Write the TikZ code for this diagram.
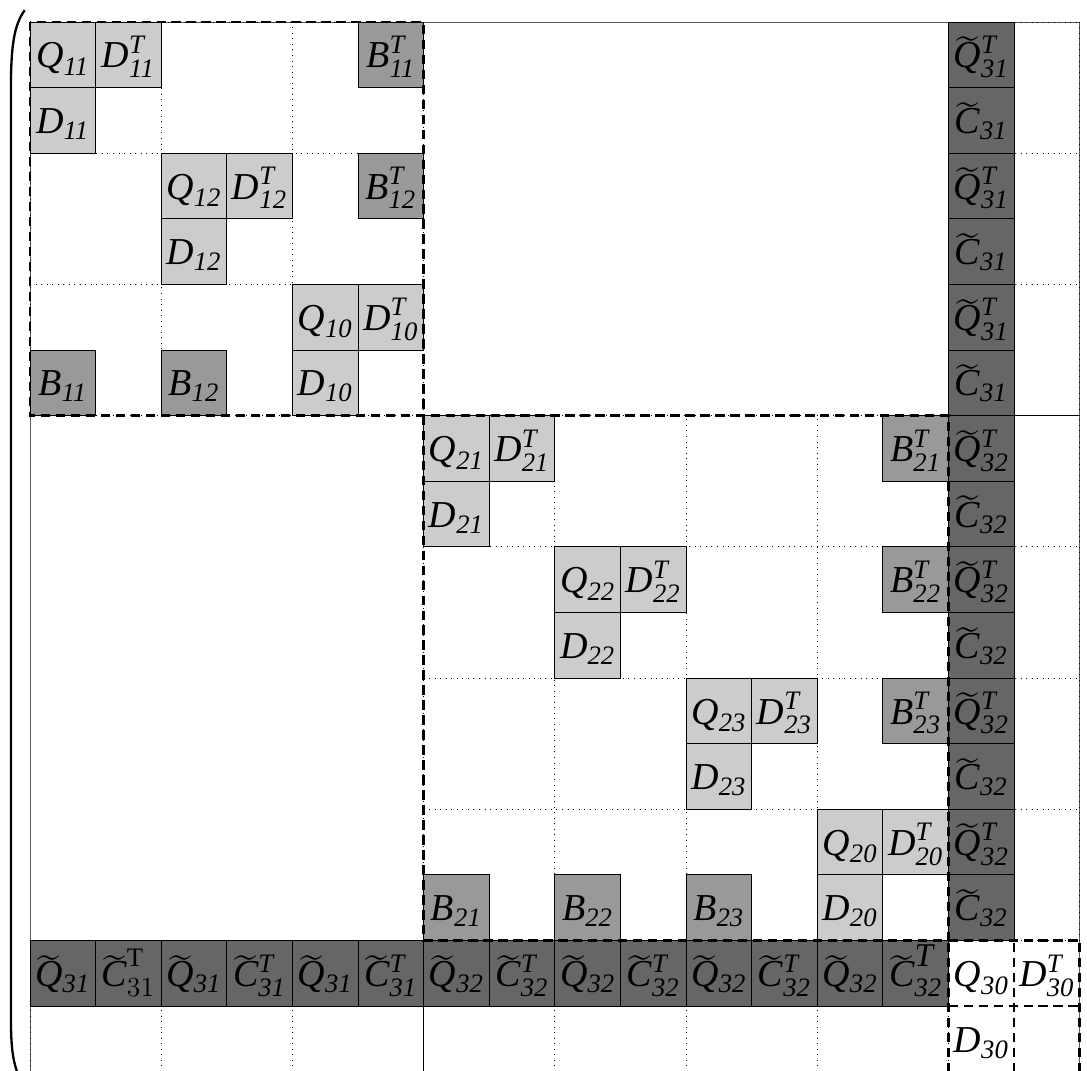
\documentclass[tikz,border=0pt]{standalone}
\usepackage{amsmath}
\usepackage{fontspec}
\setmainfont{Liberation Serif}
\usepackage{tikz}
\usetikzlibrary{calc}
\newcommand{\mt}[1]{\text{\itshape #1}}
\newcommand{\tlc}[1]{\widetilde{\raisebox{0pt}[\dimexpr\height-2.5pt\relax]{\mt{#1}}}}
\newcommand{\tl}[1]{\tlc{#1}\vphantom{\mt{#1}}}
\tikzset{
    my-cell/.style={
        minimum size=1cm, inner sep=0pt, text height=.5cm, text depth=.1cm
    },
    my-light-cell/.style={
        my-cell, draw, fill=black!20
    },
    my-b-cell/.style={
        my-cell, draw, fill=black!40
    },
    my-dark-cell/.style={
        my-cell, draw, fill=black!60
    },
    my-open-cell/.style={
        my-cell
    },
    my-grid/.style={
        dotted, thin
    },
    my-frame/.style={
        line width=1.1pt, dash pattern=on 4pt off 2.5pt
    },
}
\begin{document}
\begin{tikzpicture}[font=\fontsize{16.5}{18}\selectfont]

        % MATRIX ------------------------------------------------------------------------------------

        % BLOCK CORNERS
        \coordinate (BLK1) at (0, 0);
        \coordinate (BLK2) at (6, -6);
        \coordinate (BLK3) at (14, -14);
        \coordinate (ARWR) at (14, 0);
        \coordinate (ARWB) at (0, -14);

        \useasboundingbox (-.457, .335) rectangle (16.11, -15.985);

        % LEFT BRACKET
        \draw[line width=1pt] (-.08, .18) .. controls (-.25, -.05) and (-.29, -.4) .. (-.29, -1)
            -- (-.29, -15.2) .. controls (-.29, -15.7) and (-.25, -15.95) .. (-.1, -16.2);

        % OUTER FRAME
        \draw[black!65] (BLK1) rectangle (16, -16);

        % DOTTED GRIDS OF THE NONZERO BLOCKS
        \draw[my-grid] (0, -6)   grid[step=2] (6, 0);
        \draw[my-grid] (14, -6)  grid[step=2] (16, 0);
        \draw[my-grid] (6, -14)  grid[step=2] (14, -6);
        \draw[my-grid] (14, -14) grid[step=2] (16, -6);
        \draw[my-grid] (0, -16)  grid[step=2] (6, -14);
        \draw[my-grid] (6, -16)  grid[step=2] (14, -14);
        \draw (6, -14) -- (6, -16);
        \draw (14, -6) -- (16, -6);

        % BLOCK 1 ---------------------------------------------------------------------------------
        \node[my-light-cell] (Q11)  at ($(BLK1) + (.5, -.5)$)  {$\mt{Q}_{\mt{11}}$};
        \node[my-light-cell] (D11T) at ($(BLK1) + (1.5, -.5)$) {$\mt{D}_{\mt{11}}^{\mt{T}}$};
        \node[my-light-cell] (D11)  at ($(BLK1) + (.5, -1.5)$) {$\mt{D}_{\mt{11}}$};
        \node[my-light-cell] (Q12)  at ($(BLK1) + (2.5, -2.5)$) {$\mt{Q}_{\mt{12}}$};
        \node[my-light-cell] (D12T) at ($(BLK1) + (3.5, -2.5)$) {$\mt{D}_{\mt{12}}^{\mt{T}}$};
        \node[my-light-cell] (D12)  at ($(BLK1) + (2.5, -3.5)$) {$\mt{D}_{\mt{12}}$};
        \node[my-light-cell] (Q10)  at ($(BLK1) + (4.5, -4.5)$) {$\mt{Q}_{\mt{10}}$};
        \node[my-light-cell] (D10T) at ($(BLK1) + (5.5, -4.5)$) {$\mt{D}_{\mt{10}}^{\mt{T}}$};
        \node[my-light-cell] (D10)  at ($(BLK1) + (4.5, -5.5)$) {$\mt{D}_{\mt{10}}$};

        % COUPLING - BLOCK 1
        \node[my-b-cell] (B11T) at ($(BLK1) + (5.5, -.5)$)  {$\mt{B}_{\mt{11}}^{\mt{T}}$};
        \node[my-b-cell] (B12T) at ($(BLK1) + (5.5, -2.5)$) {$\mt{B}_{\mt{12}}^{\mt{T}}$};
        \node[my-b-cell] (B11)  at ($(BLK1) + (.5, -5.5)$)  {$\mt{B}_{\mt{11}}$};
        \node[my-b-cell] (B12)  at ($(BLK1) + (2.5, -5.5)$) {$\mt{B}_{\mt{12}}$};

        % BLOCK 2 ---------------------------------------------------------------------------------
        \node[my-light-cell] (Q21)  at ($(BLK2) + (.5, -.5)$)  {$\mt{Q}_{\mt{21}}$};
        \node[my-light-cell] (D21T) at ($(BLK2) + (1.5, -.5)$) {$\mt{D}_{\mt{21}}^{\mt{T}}$};
        \node[my-light-cell] (D21)  at ($(BLK2) + (.5, -1.5)$) {$\mt{D}_{\mt{21}}$};
        \node[my-light-cell] (Q22)  at ($(BLK2) + (2.5, -2.5)$) {$\mt{Q}_{\mt{22}}$};
        \node[my-light-cell] (D22T) at ($(BLK2) + (3.5, -2.5)$) {$\mt{D}_{\mt{22}}^{\mt{T}}$};
        \node[my-light-cell] (D22)  at ($(BLK2) + (2.5, -3.5)$) {$\mt{D}_{\mt{22}}$};
        \node[my-light-cell] (Q23)  at ($(BLK2) + (4.5, -4.5)$) {$\mt{Q}_{\mt{23}}$};
        \node[my-light-cell] (D23T) at ($(BLK2) + (5.5, -4.5)$) {$\mt{D}_{\mt{23}}^{\mt{T}}$};
        \node[my-light-cell] (D23)  at ($(BLK2) + (4.5, -5.5)$) {$\mt{D}_{\mt{23}}$};
        \node[my-light-cell] (Q20)  at ($(BLK2) + (6.5, -6.5)$) {$\mt{Q}_{\mt{20}}$};
        \node[my-light-cell] (D20T) at ($(BLK2) + (7.5, -6.5)$) {$\mt{D}_{\mt{20}}^{\mt{T}}$};
        \node[my-light-cell] (D20)  at ($(BLK2) + (6.5, -7.5)$) {$\mt{D}_{\mt{20}}$};

        % COUPLING - BLOCK 2
        \node[my-b-cell] (B21T) at ($(BLK2) + (7.5, -.5)$)  {$\mt{B}_{\mt{21}}^{\mt{T}}$};
        \node[my-b-cell] (B22T) at ($(BLK2) + (7.5, -2.5)$) {$\mt{B}_{\mt{22}}^{\mt{T}}$};
        \node[my-b-cell] (B23T) at ($(BLK2) + (7.5, -4.5)$) {$\mt{B}_{\mt{23}}^{\mt{T}}$};
        \node[my-b-cell] (B21)  at ($(BLK2) + (.5, -7.5)$)  {$\mt{B}_{\mt{21}}$};
        \node[my-b-cell] (B22)  at ($(BLK2) + (2.5, -7.5)$) {$\mt{B}_{\mt{22}}$};
        \node[my-b-cell] (B23)  at ($(BLK2) + (4.5, -7.5)$) {$\mt{B}_{\mt{23}}$};

        % ARROW COLUMN ----------------------------------------------------------------------------
        \node[my-dark-cell] (COL0)  at ($(ARWR) + (.5, -.5)$)   {$\tl{Q}_{\mt{31}}^{\mt{T}}$};
        \node[my-dark-cell] (COL1)  at ($(ARWR) + (.5, -1.5)$)  {$\tl{C}_{\mt{31}}$};
        \node[my-dark-cell] (COL2)  at ($(ARWR) + (.5, -2.5)$)  {$\tl{Q}_{\mt{31}}^{\mt{T}}$};
        \node[my-dark-cell] (COL3)  at ($(ARWR) + (.5, -3.5)$)  {$\tl{C}_{\mt{31}}$};
        \node[my-dark-cell] (COL4)  at ($(ARWR) + (.5, -4.5)$)  {$\tl{Q}_{\mt{31}}^{\mt{T}}$};
        \node[my-dark-cell] (COL5)  at ($(ARWR) + (.5, -5.5)$)  {$\tl{C}_{\mt{31}}$};
        \node[my-dark-cell] (COL6)  at ($(ARWR) + (.5, -6.5)$)  {$\tl{Q}_{\mt{32}}^{\mt{T}}$};
        \node[my-dark-cell] (COL7)  at ($(ARWR) + (.5, -7.5)$)  {$\tl{C}_{\mt{32}}$};
        \node[my-dark-cell] (COL8)  at ($(ARWR) + (.5, -8.5)$)  {$\tl{Q}_{\mt{32}}^{\mt{T}}$};
        \node[my-dark-cell] (COL9)  at ($(ARWR) + (.5, -9.5)$)  {$\tl{C}_{\mt{32}}$};
        \node[my-dark-cell] (COL10) at ($(ARWR) + (.5, -10.5)$) {$\tl{Q}_{\mt{32}}^{\mt{T}}$};
        \node[my-dark-cell] (COL11) at ($(ARWR) + (.5, -11.5)$) {$\tl{C}_{\mt{32}}$};
        \node[my-dark-cell] (COL12) at ($(ARWR) + (.5, -12.5)$) {$\tl{Q}_{\mt{32}}^{\mt{T}}$};
        \node[my-dark-cell] (COL13) at ($(ARWR) + (.5, -13.5)$) {$\tl{C}_{\mt{32}}$};

        % ARROW ROW -------------------------------------------------------------------------------
        \node[my-dark-cell] (ROW0)  at ($(ARWB) + (.5, -.5)$)   {$\tl{Q}_{\mt{31}}$};
        \node[my-dark-cell] (ROW1)  at ($(ARWB) + (1.5, -.5)$)  {$\tlc{C}_{31}^{\mathrm{T}}$};
        \node[my-dark-cell] (ROW2)  at ($(ARWB) + (2.5, -.5)$)  {$\tl{Q}_{\mt{31}}$};
        \node[my-dark-cell] (ROW3)  at ($(ARWB) + (3.5, -.5)$)  {$\tl{C}_{\mt{31}}^{\mt{T}}$};
        \node[my-dark-cell] (ROW4)  at ($(ARWB) + (4.5, -.5)$)  {$\tl{Q}_{\mt{31}}$};
        \node[my-dark-cell] (ROW5)  at ($(ARWB) + (5.5, -.5)$)  {$\tl{C}_{\mt{31}}^{\mt{T}}$};
        \node[my-dark-cell] (ROW6)  at ($(ARWB) + (6.5, -.5)$)  {$\tl{Q}_{\mt{32}}$};
        \node[my-dark-cell] (ROW7)  at ($(ARWB) + (7.5, -.5)$)  {$\tl{C}_{\mt{32}}^{\mt{T}}$};
        \node[my-dark-cell] (ROW8)  at ($(ARWB) + (8.5, -.5)$)  {$\tl{Q}_{\mt{32}}$};
        \node[my-dark-cell] (ROW9)  at ($(ARWB) + (9.5, -.5)$)  {$\tl{C}_{\mt{32}}^{\mt{T}}$};
        \node[my-dark-cell] (ROW10) at ($(ARWB) + (10.5, -.5)$) {$\tl{Q}_{\mt{32}}$};
        \node[my-dark-cell] (ROW11) at ($(ARWB) + (11.5, -.5)$) {$\tl{C}_{\mt{32}}^{\mt{T}}$};
        \node[my-dark-cell] (ROW12) at ($(ARWB) + (12.5, -.5)$) {$\tl{Q}_{\mt{32}}$};
        \node[my-dark-cell] (ROW13) at ($(ARWB) + (13.5, -.5)$) {$\tlc{C}_{\mt{32}}^{\mbox{\itshape\Large T}}$};

        % BLOCK 3 ---------------------------------------------------------------------------------
        \node[my-open-cell] (Q30)  at ($(BLK3) + (.5, -.5)$)  {$\mt{Q}_{\mt{30}}$};
        \node[my-open-cell] (D30T) at ($(BLK3) + (1.5, -.5)$) {$\mt{D}_{\mt{30}}^{\mt{T}}$};
        \node[my-open-cell] (D30)  at ($(BLK3) + (.5, -1.5)$) {$\mt{D}_{\mt{30}}$};

        % DASHED FRAMES ROUND THE DIAGONAL BLOCKS
        \draw[my-frame] (BLK1) rectangle (BLK2);
        \draw[my-frame] (BLK2) rectangle (BLK3);
        \draw[my-frame] (14, -16) grid[step=1] (16, -14);

    \end{tikzpicture}
\end{document}
